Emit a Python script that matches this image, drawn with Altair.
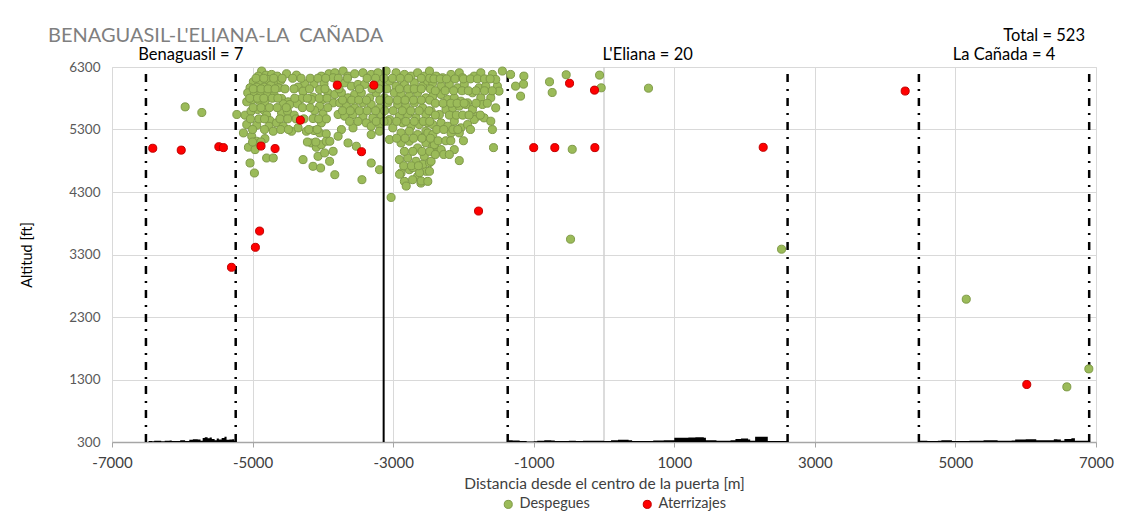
import altair as alt
import pandas as pd

FONT = "Lato"

# ---------------- data ----------------
series_names = ["Despegues", "Aterrizajes"]
series_fill = ["#9BBB59", "#FF0000"]
series_stroke = ["#7F9A48", "#C00000"]

green_x = [
    -4871, -4809, -4918, -4729, -4649, -4517, -4376, -4022, -3914, -4989, -4894, -4786, -4692, -4597,
    -4258, -4126, -3984, -5036, -4941, -4833, -4739, -4635, -4352, -4046, -5069, -4974, -4880, -4786,
    -4692, -4282, -3928, -4140, -5083, -5003, -4908, -4824, -4588, -4494, -4305, -4164, -3999, -4564,
    -4470, -4362, -4046, -5224, -5106, -5022, -4927, -4833, -4800, -4588, -4503, -4409, -4117, -3999,
    -4753, -5083, -4941, -4767, -4659, -4564, -4446, -4352, -4140, -4022, -5130, -5012, -4706, -4234,
    -4126, -4046, -3952, -4941, -4824, -4164, -4093, -4022, -3952, -5059, -4965, -4800, -4706, -4282,
    -4069, -3975, -3904, -5036, -4140, -4032, -4974,
    -3830, -3712, -3642, -3547, -3430, -3312, -3217, -3100, -2958, -2840, -2746, -2652, -2557, -3854,
    -3689, -3595, -3500, -3406, -3170, -3052, -2958, -2840, -2699, -2581, -2510, -3830, -3736, -3642,
    -3547, -3453, -3335, -3241, -3123, -2982, -2888, -2770, -2652, -2534, -3854, -3760, -3665, -3547,
    -3430, -3312, -3194, -3076, -2935, -2817, -2699, -2581, -3783, -3689, -3571, -3430, -3288, -3170,
    -3052, -2911, -2793, -2675, -2534, -3736, -3571, -3382, -3312, -3194, -3076, -3005, -2864, -2746,
    -2628, -2510, -3312, -3194, -2888, -2770, -2652, -2534, -3783, -3642, -3524, -3052, -2888, -2770,
    -2652, -2534, -3901, -3312, -3194, -2911, -2793, -2675, -2557, -3854, -3830, -3444, -2888, -2770,
    -2652, -2534, -2840, -2723, -2605, -3029,
    -2814, -2909, -2719, -2624, -2577, -2482, -2601, -2387, -2316, -2435,
    -2483, -2389, -2295, -2177, -2059, -2012, -1847, -1753, -1588, -1446, -1329, -1140, -1258, -1187,
    -1517, -1494, -2436, -2318, -2201, -2083, -1988, -1871, -1776, -1682, -1541, -2436, -2318, -2224,
    -2130, -2036, -1941, -1753, -1611, -1729, -1541, -2460, -2342, -2248, -2153, -2059, -1965, -1871,
    -1800, -1706, -1611, -1847, -2436, -2318, -2224, -2130, -2036, -1941, -2177, -2059, -1588, -2507,
    -2413, -2318, -2130, -2059, -2460, -2436, -2483, -2507,
    -5959, -5722, -1145, -775, -737, -538, -63, -40, -1572, -452, 633, -476, 2526, 5154, 6585, 6898,
    # denser fill of the central cluster
    -3780, -3650, -3370, -3250, -3130, -3010, -2900, -2780, -2600, -2480,
    -3770, -3480, -3300, -3200, -3090, -2910, -2790, -2700, -2600, -2470,
    -3720, -3590, -3490, -3380, -3190, -3060, -2940, -2830, -2710, -2600, -2480,
    -3720, -3610, -3480, -3370, -3250, -3120, -3000, -2870, -2750, -2630, -2490,
    -3620, -3500, -3240, -3130, -2950, -2820, -2700, -2570, -2480,
    -2950, -2830, -2710, -2590, -2470,
    -2840, -2720, -2590, -2480,
    -2850, -2740, -2640,
    -4950, -4840, -4700, -4580, -4430, -4310, -4180, -4070, -3960,
    -4990, -4880, -4780, -4680, -4540, -4410, -4190, -3970,
    -5040, -4930, -4840, -4720, -4640, -4400, -4220, -4050, -3940,
    -4990, -4880, -4760, -4650, -4520, -4290, -4180, -3930,
    -5030, -4910, -4830, -4610, -4500, -4380, -4270, -4060, -3950,
    -5000, -4830, -4600, -4490, -4200, -4080,
    -5000, -4880, -4220, -4100,
    -2420, -2330, -2240, -2120, -2000, -1900, -1800, -1700, -1620,
    -2400, -2260, -2140, -2020, -1930, -1820, -1700, -1590,
    -2400, -2290, -2180, -2090, -1990, -1820, -1660,
    -2400, -2200, -2100, -2010, -1920, -1760,
    -2380, -2280, -2150, -2080, -1900,
    -2360, -2250, -2180, -2000,
    -2400, -2280, -2200,
]
green_y = [
    6235, 6170, 6154, 6181, 6154, 6192, 6170, 6154, 6192, 6064, 6085, 6101, 6074, 6085,
    6031, 6031, 6031, 5967, 5978, 5978, 6010, 5967, 5978, 5940, 5887, 5860, 5887, 5860,
    5844, 5914, 5887, 5817, 5743, 5780, 5764, 5743, 5796, 5743, 5796, 5780, 5780, 5711,
    5700, 5711, 5673, 5540, 5529, 5593, 5620, 5604, 5529, 5566, 5593, 5529, 5604, 5550,
    5443, 5379, 5368, 5352, 5406, 5352, 5272, 5326, 5475, 5406, 5245, 5192, 5272, 5272,
    5283, 5245, 5229, 5112, 5154, 5085, 5016, 5058, 5112, 5016, 4978, 4844, 4844, 4818,
    4871, 4925, 4791, 4764, 4711, 4684, 4604,
    6208, 6235, 6154, 6192, 6208, 6181, 6208, 6235, 6208, 6181, 6154, 6208, 6154, 6128,
    6047, 5994, 6021, 6021, 6047, 6074, 5994, 6021, 6047, 5994, 6074, 5860, 5887, 5807,
    5860, 5887, 5807, 5887, 5807, 5887, 5860, 5834, 5887, 5807, 5727, 5727, 5673, 5646,
    5727, 5700, 5646, 5727, 5700, 5673, 5727, 5646, 5540, 5513, 5540, 5513, 5486, 5540,
    5459, 5513, 5540, 5486, 5540, 5299, 5326, 5406, 5352, 5379, 5433, 5326, 5406, 5352,
    5379, 5406, 5219, 5272, 5245, 5272, 5219, 5272, 5192, 5085, 5032, 5139, 5085, 5112,
    5005, 5085, 5112, 4764, 4657, 4818, 4844, 4791, 4871, 4951, 4577, 4497, 4604, 4657,
    4550, 4631, 4470, 4497, 4443, 4213,
    4395, 4583, 4689, 4609, 4743, 4770, 4476, 4984, 4957, 5037,
    6235, 6154, 6128, 6181, 6208, 6128, 6154, 6208, 6181, 6235, 6181, 6154, 5994, 5834,
    5994, 5914, 6047, 5994, 6021, 5967, 6021, 5887, 5967, 5994, 6101, 5834, 5860, 5780,
    5807, 5753, 5727, 5807, 5807, 5700, 5646, 5593, 5540, 5620, 5646, 5673, 5700, 5620,
    5513, 5486, 5433, 5459, 5379, 5406, 5352, 5433, 5326, 5379, 5245, 5245, 5299, 5245,
    5058, 4978, 4978, 4802, 4791, 5219, 4631, 4470,
    5662, 5572, 6026, 6063, 5892, 6176, 6170, 5967, 5010, 4983, 5961, 3545, 3385, 2585, 1182, 1470,
    6120, 6120, 6120, 6120, 6120, 6120, 6120, 6120, 6120, 6120,
    5950, 5950, 5950, 5950, 5950, 5950, 5950, 5950, 5950, 5950,
    5770, 5770, 5770, 5770, 5770, 5770, 5770, 5770, 5770, 5770, 5770,
    5600, 5600, 5600, 5600, 5600, 5600, 5600, 5600, 5600, 5600, 5600,
    5430, 5430, 5430, 5430, 5430, 5430, 5430, 5430, 5430,
    5160, 5160, 5160, 5160, 5160,
    4950, 4950, 4950, 4950,
    4720, 4720, 4720,
    6120, 6120, 6120, 6120, 6120, 6120, 6120, 6120, 6120,
    5950, 5950, 5950, 5950, 5950, 5950, 5950, 5950,
    5800, 5800, 5800, 5800, 5800, 5800, 5800, 5800, 5800,
    5650, 5650, 5650, 5650, 5650, 5650, 5650, 5650,
    5470, 5470, 5470, 5470, 5470, 5470, 5470, 5470, 5470,
    5300, 5300, 5300, 5300, 5300, 5300,
    5100, 5100, 5100, 5100,
    6110, 6110, 6110, 6110, 6110, 6110, 6110, 6110, 6110,
    5920, 5920, 5920, 5920, 5920, 5920, 5920, 5920,
    5720, 5720, 5720, 5720, 5720, 5720, 5720,
    5530, 5530, 5530, 5530, 5530, 5530,
    5300, 5300, 5300, 5300, 5300,
    5120, 5120, 5120, 5120,
    4900, 4900, 4900,
]

red_x = [-6420, -6015, -5480, -5415, -4880, -4680, -4320, -3795, -3450, -3275, -1000, -700,
         -130, -490, -135, -4900, -4960, -5300, -1785, 2265, 4285, 6015]
red_y = [5000, 4970, 5025, 5010, 5035, 4995, 5450, 6010, 4945, 6010, 5010, 5010,
         5010, 6040, 5930, 3675, 3415, 3095, 3995, 5015, 5915, 1220]

zone_bounds = [-6517, -5240, -1370, 2612, 4480, 6903]
zone_labels = ["Benaguasil = 7", "L'Eliana = 20", "La Cañada = 4"]
gate_line = [-3135]
center_line = [0]

terrain1_x = [-6517, -6480, -6430, -6400, -6330, -6300, -6250, -6180, -6150, -6100, -6030, -5990,
              -5960, -5900, -5850, -5780, -5740, -5710, -5680, -5640, -5610, -5580, -5540, -5510,
              -5480, -5440, -5400, -5370, -5330, -5290, -5260, -5240]
terrain1_h = [300, 318, 312, 322, 322, 314, 322, 325, 315, 318, 330, 330,
              318, 335, 345, 340, 322, 365, 375, 360, 372, 350, 330, 355,
              340, 365, 385, 335, 340, 345, 320, 300]
terrain2_x = [-1370, -1360, -1300, -1200, -1100, -1000, -950, -850, -750, -700, -600, -500, -400,
              -300, -200, -100, 0, 100, 200, 350, 400, 500, 700, 850, 990, 1000, 1150, 1200, 1300,
              1420, 1450, 1600, 1800, 1870, 1950, 2050, 2080, 2150, 2300, 2330, 2500, 2600, 2612]
terrain2_h = [300, 330, 325, 318, 310, 312, 322, 328, 325, 316, 318, 322, 318,
              320, 321, 320, 318, 330, 335, 330, 315, 318, 325, 328, 330, 370, 368, 372, 375,
              370, 330, 322, 330, 350, 358, 340, 320, 385, 385, 318, 318, 320, 300]
terrain3_x = [4480, 4490, 4600, 4750, 4800, 4900, 4950, 5050, 5200, 5350, 5400, 5500, 5600, 5700,
              5800, 5850, 6000, 6100, 6150, 6250, 6400, 6450, 6500, 6550, 6650, 6700, 6890, 6900]
terrain3_h = [300, 320, 315, 322, 330, 328, 315, 318, 322, 322, 330, 330, 322, 322,
              325, 340, 345, 345, 330, 330, 345, 340, 322, 350, 360, 320, 325, 300]

x_ticks = [-7000, -5000, -3000, -1000, 1000, 3000, 5000, 7000]
y_ticks = [300, 1300, 2300, 3300, 4300, 5300, 6300]

chart_title = "BENAGUASIL-L'ELIANA-LA \u00a0CAÑADA"
total_label = "Total = 523"

# ---------------- tables ----------------
pts = pd.DataFrame({
    "x": green_x + red_x,
    "y": green_y + red_y,
    "tipo": [series_names[0]] * len(green_x) + [series_names[1]] * len(red_x),
})
terrain = pd.DataFrame({
    "x": terrain1_x + terrain2_x + terrain3_x,
    "h": terrain1_h + terrain2_h + terrain3_h,
    "zona": [1] * len(terrain1_x) + [2] * len(terrain2_x) + [3] * len(terrain3_x),
})
terrain["base"] = y_ticks[0]

def vlines(xs_):
    d = pd.DataFrame({"x": xs_})
    d["lo"] = y_ticks[0]
    d["hi"] = y_ticks[-1]
    return d

# zone labels centred between the zone boundaries
zl = pd.DataFrame({
    "x": [(zone_bounds[2 * i] + zone_bounds[2 * i + 1]) / 2 for i in range(3)],
    "t": zone_labels,
})

W, H = 984, 375
xs = alt.Scale(domain=[x_ticks[0], x_ticks[-1]], nice=False, zero=False)
ys = alt.Scale(domain=[y_ticks[0], y_ticks[-1]], nice=False, zero=False)

x_axis = alt.Axis(values=x_ticks, labelExpr="'' + datum.value",
                  title="Distancia desde el centro de la puerta [m]",
                  labelFlush=False, grid=True, gridColor="#D9D9D9", gridWidth=1,
                  domainColor="#A6A6A6", domainWidth=1.5, tickColor="#A6A6A6", tickSize=5,
                  labelFontSize=15, labelColor="#404040", labelPadding=8, labelFont=FONT,
                  titleFontSize=15.5, titleFontWeight="normal", titleColor="#404040",
                  titlePadding=6, titleFont=FONT)
y_axis = alt.Axis(values=y_ticks, labelExpr="'' + datum.value", title="Altitud [ft]",
                  grid=True, gridColor="#D9D9D9", gridWidth=1, domain=False, ticks=False,
                  labelFontSize=13.5, labelColor="#595959", labelPadding=12, labelFont=FONT,
                  titleFontSize=14.5, titleFontWeight="normal", titleColor="#000000",
                  titlePadding=34, titleFont=FONT)

legend = alt.Legend(title=None, orient="none", legendX=389, legendY=430, direction="horizontal",
                    symbolType="circle", symbolSize=65, symbolStrokeWidth=1,
                    labelFontSize=14.5, labelFont=FONT, labelColor="#404040",
                    columnPadding=50, padding=0, labelOffset=4)

X = alt.X("x:Q", scale=xs, axis=x_axis)

center = alt.Chart(vlines(center_line)).mark_rule(color="#D0D0D0", strokeWidth=1.5).encode(
    x=X, y=alt.Y("lo:Q", scale=ys, axis=y_axis), y2="hi:Q")

ground = alt.Chart(terrain).mark_area(color="black", interpolate="step-after").encode(
    x=X, y=alt.Y("h:Q", scale=ys, axis=y_axis), y2="base:Q", detail="zona:N")

bounds = alt.Chart(vlines(zone_bounds)).mark_rule(color="black", strokeWidth=2.5,
                                                  strokeDash=[8, 7, 2, 7]).encode(
    x=X, y=alt.Y("lo:Q", scale=ys, axis=y_axis), y2="hi:Q")

points = alt.Chart(pts).mark_circle(size=65, opacity=1, strokeWidth=1).encode(
    x=X,
    y=alt.Y("y:Q", scale=ys, axis=y_axis),
    fill=alt.Fill("tipo:N", scale=alt.Scale(domain=series_names, range=series_fill), legend=legend),
    stroke=alt.Stroke("tipo:N", scale=alt.Scale(domain=series_names, range=series_stroke), legend=legend),
)

gate = alt.Chart(vlines(gate_line)).mark_rule(color="black", strokeWidth=2).encode(
    x=X, y=alt.Y("lo:Q", scale=ys, axis=y_axis), y2="hi:Q")

zone_text = alt.Chart(zl).mark_text(
    font=FONT, fontSize=16.5, color="black", baseline="middle", align="center").encode(
    x=X, y=alt.value(-12), text="t:N")

title_text = alt.Chart(pd.DataFrame({"t": [chart_title]})).mark_text(
    font=FONT, fontSize=20, color="#7F7F7F", baseline="middle", align="left").encode(
    x=alt.value(-64), y=alt.value(-31), text="t:N")

total_text = alt.Chart(pd.DataFrame({"t": [total_label]})).mark_text(
    font=FONT, fontSize=16.5, color="black", baseline="middle", align="right").encode(
    x=alt.value(973), y=alt.value(-31), text="t:N")

chart = alt.layer(center, ground, bounds, points, gate, zone_text, title_text, total_text).properties(
    width=W, height=H,
    autosize=alt.AutoSizeParams(type="none"),
    padding={"left": 104, "top": 59, "right": 30, "bottom": 80},
).configure_view(stroke=None).configure(font=FONT)

chart.save("out.html", embed_options={"renderer": "svg", "actions": False})
